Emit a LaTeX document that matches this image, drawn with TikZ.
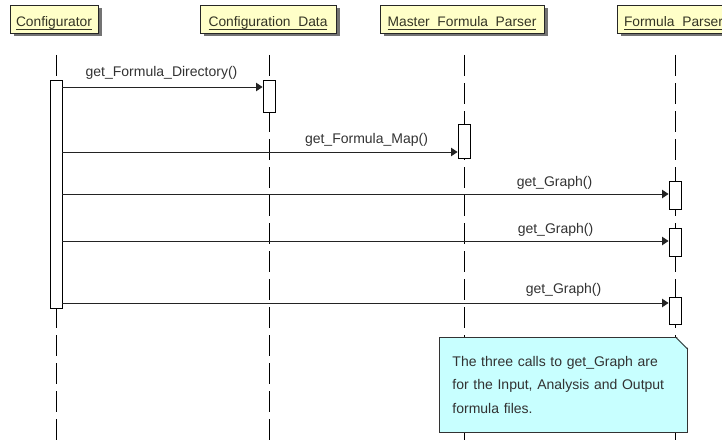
\documentclass[tikz,border=0pt]{standalone}
\usepackage{fontspec}
\setmainfont{Liberation Sans}
\usetikzlibrary{arrows.meta,shadows}
\definecolor{hdrfill}{RGB}{255,255,200}
\definecolor{hdrtext}{RGB}{52,52,36}
\definecolor{notefill}{RGB}{200,255,255}
\definecolor{msgline}{RGB}{35,35,35}
\definecolor{lbltext}{RGB}{50,50,50}
% underlined object name, rule placed just under the baseline
\newcommand\ulname[1]{\setbox0\hbox{#1}\rlap{\rule[-2.8pt]{\wd0}{0.9pt}}\box0}
% word gap in object names: the underscore merges into the underline
\newcommand\usp{\hphantom{\_}}

\begin{document}
\begin{tikzpicture}[x=1pt,y=-1pt,
  hdr/.style={draw=black!85, line width=0.8pt, fill=hdrfill, text=hdrtext,
    inner xsep=0pt, inner ysep=0pt, text height=22pt, text depth=6pt,
    font=\fontsize{13.8}{16}\selectfont,
    drop shadow={shadow xshift=3.5pt, shadow yshift=-3.5pt, fill=black!55, opacity=1}},
  lifeline/.style={draw=black, line width=1pt, dash pattern=on 21pt off 7pt},
  bar/.style={draw=black, line width=0.9pt, fill=white, minimum width=12pt, inner sep=0pt},
  msg/.style={draw=msgline, line width=1pt, -{Triangle[length=6.5pt,width=8.5pt]}},
  lbl/.style={text=lbltext, font=\fontsize{14}{16}\selectfont, inner sep=0pt, anchor=base},
  notebox/.style={draw=black!80, line width=0.9pt, fill=notefill, text=lbltext,
    minimum width=248pt, minimum height=95pt, text width=222pt,
    inner xsep=13pt, inner ysep=0pt, align=left, anchor=north west,
    font=\fontsize{14}{23.5}\selectfont},
]
\useasboundingbox (0,0) rectangle (722,444);
\clip (0,0) rectangle (722,444);

% object headers
\node[hdr, minimum width=88pt]  (cfg) at (54,19)    {\ulname{Configurator}};
\node[hdr, minimum width=136pt] (cd)  at (268,19)   {\ulname{Configuration\usp Data}};
\node[hdr, minimum width=164pt] (mfp) at (462,19)   {\ulname{Master\usp Formula\usp Parser}};
\node[hdr, minimum width=113pt] (fp)  at (673.5,19) {\ulname{Formula\usp Parser}};

% lifelines
\coordinate (cfgTop) at (56,55);  \coordinate (cfgBot) at (56,450);
\coordinate (cdTop)  at (269,55); \coordinate (cdBot)  at (269,450);
\coordinate (mfpTop) at (464,55); \coordinate (mfpBot) at (464,450);
\coordinate (fpTop)  at (675,55); \coordinate (fpBot)  at (675,450);
\draw[lifeline] (cfgTop) -- (cfgBot);
\draw[lifeline] (cdTop) -- (cdBot);
\draw[lifeline] (mfpTop) -- (mfpBot);
\draw[lifeline] (fpTop) -- (fpBot);

% activation bars
\node[bar, minimum height=228pt] (b0) at (56,194)    {};
\node[bar, minimum height=32pt]  (b1) at (269,96)    {};
\node[bar, minimum height=34pt]  (b2) at (464,141)   {};
\node[bar, minimum height=28pt]  (b3) at (675,195)   {};
\node[bar, minimum height=28pt]  (b4) at (675,242)   {};
\node[bar, minimum height=27pt]  (b5) at (675,310.5) {};

% messages
\coordinate (y1) at (0,87);
\coordinate (y2) at (0,152);
\coordinate (y3) at (0,194);
\coordinate (y4) at (0,241);
\coordinate (y5) at (0,303);
\draw[msg] (b0.east |- y1) -- (b1.west |- y1);
\draw[msg] (b0.east |- y2) -- (b2.west |- y2);
\draw[msg] (b0.east |- y3) -- (b3.west |- y3);
\draw[msg] (b0.east |- y4) -- (b4.west |- y4);
\draw[msg] (b0.east |- y5) -- (b5.west |- y5);

\node[lbl] (l1) at (161.5,76) {get\_Formula\_Directory()};
\node[lbl] (l2) at (366.5,143) {get\_Formula\_Map()};
\node[lbl] (l3) at (554.5,186) {get\_Graph()};
\node[lbl] (l4) at (555.5,233) {get\_Graph()};
\node[lbl] (l5) at (563.5,293) {get\_Graph()};

% note with folded corner
\node[notebox] (note) at (439,337)
  {The three calls to get\_Graph are\\for the Input, Analysis and Output\\formula files.};
\fill[white] ([xshift=-12pt,yshift=1pt]note.north east) -- ([xshift=1pt,yshift=1pt]note.north east)
  -- ([xshift=1pt,yshift=-12pt]note.north east) -- cycle;
\draw[draw=black!80, line width=0.9pt]
  ([xshift=-12.4pt]note.north east) -- ([yshift=-12.4pt]note.north east);
\end{tikzpicture}
\end{document}
